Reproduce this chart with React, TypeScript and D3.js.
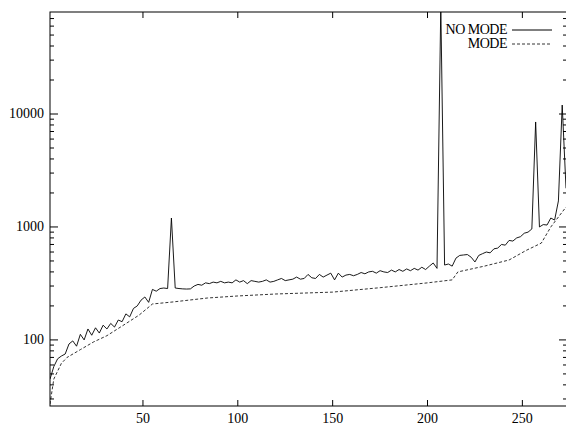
import React from "react";
import * as d3 from "d3";

const xNoMode = d3.range(1, 274, 2);
const noMode = [45,58,68,72,75,92,98,88,112,100,125,110,128,115,135,125,140,130,150,145,170,160,190,200,225,240,215,280,270,285,288,285,1200,288,285,283,282,283,300,310,305,320,315,325,320,330,320,325,320,340,325,335,315,335,330,325,330,340,325,330,340,350,335,340,345,360,345,350,380,355,350,380,360,375,390,340,390,360,375,380,370,380,395,385,400,405,390,410,400,395,415,400,420,405,425,410,430,415,440,420,450,480,430,90000,460,470,450,530,560,565,570,540,490,560,580,600,590,640,650,700,690,760,750,800,820,880,900,960,8500,1000,1050,1040,1200,1150,1700,12000,2200];
const xMode = [1,3,7,10,17,24,31,40,48,55,66,84,100,120,150,175,200,213,216,230,243,252,260,265,273];
const mode = [27,45,62,70,82,96,109,136,166,208,217,235,245,255,265,290,320,340,400,450,510,620,720,1000,1500];
const xTicks = [50,100,150,200,250];
const yTicks = [100,1000,10000];

export default function App() {
  const L = 50, R = 567, T = 12, B = 406;
  const x = d3.scaleLinear().domain([1, 273]).range([L, R - 1]);
  const y = d3.scaleLog().domain([26, 80000]).range([B, T]);
  const line = d3.line<[number, number]>().x(d => x(d[0])).y(d => y(Math.min(d[1], 200000)));
  const minor: number[] = [];
  [10, 100, 1000, 10000].forEach(p => d3.range(2, 10).forEach(k => { const v = p * k; if (v > 26 && v < 80000) minor.push(v); }));
  const ff = '"Liberation Serif", "DejaVu Serif", Times, serif';
  return (
    <svg width={566} height={428} style={{ position: "absolute", left: 0, top: 0, background: "#fff" }}>
      <defs><clipPath id="c"><rect x={L} y={T} width={R - L} height={B - T} /></clipPath></defs>
      <g clipPath="url(#c)" fill="none" stroke="#000">
        <path d={line(xMode.map((v, i) => [v, mode[i]]) as any) || ""} strokeDasharray="3,2" strokeWidth={0.8} />
        <path d={line(xNoMode.map((v, i) => [v, noMode[i]]) as any) || ""} strokeWidth={0.9} />
      </g>
      <g stroke="#000" strokeWidth={1}>
        <rect x={L} y={T} width={R - L} height={B - T} fill="none" />
        {yTicks.map(v => <g key={v}><line x1={L} x2={L + 8} y1={y(v)} y2={y(v)} /><line x1={R - 8} x2={R} y1={y(v)} y2={y(v)} /></g>)}
        {minor.map(v => <g key={v}><line x1={L} x2={L + 4} y1={y(v)} y2={y(v)} /><line x1={R - 4} x2={R} y1={y(v)} y2={y(v)} /></g>)}
        {xTicks.map(v => <g key={v}><line x1={x(v)} x2={x(v)} y1={B} y2={B - 6} /><line x1={x(v)} x2={x(v)} y1={T} y2={T + 6} /></g>)}
        <line x1={512} x2={552} y1={30} y2={30} />
        <line x1={512} x2={552} y1={44} y2={44} strokeDasharray="3,2" strokeWidth={0.8} />
      </g>
      <g fontFamily={ff} fontSize={14} fill="#000">
        {yTicks.map(v => <text key={v} fontFamily={ff} x={L - 6} y={y(v) + 4} textAnchor="end">{v}</text>)}
        {xTicks.map(v => <text key={v} fontFamily={ff} x={x(v)} y={B + 17} textAnchor="middle">{v}</text>)}
        <text fontFamily={ff} x={507} y={34} textAnchor="end" letterSpacing={-0.5}>NO MODE</text>
        <text fontFamily={ff} x={507} y={48} textAnchor="end" letterSpacing={-0.5}>MODE</text>
      </g>
    </svg>
  );
}
